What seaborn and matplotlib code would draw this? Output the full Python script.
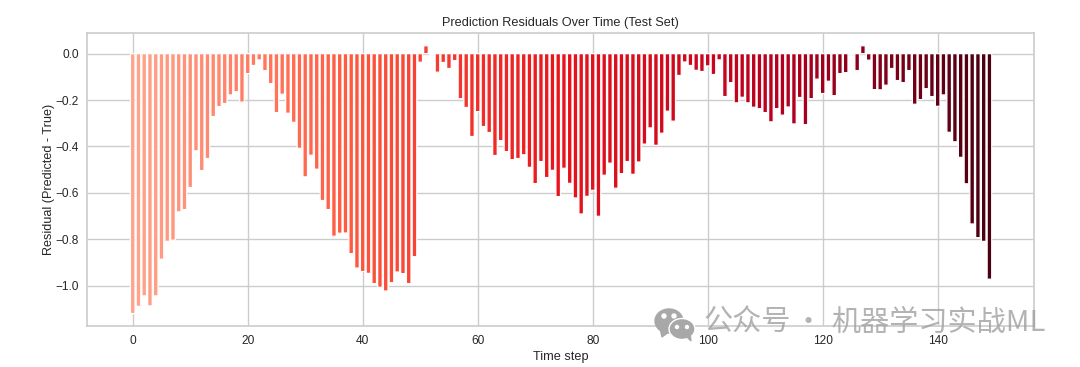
import numpy as np
import pandas as pd
import matplotlib.pyplot as plt
from matplotlib.colors import LinearSegmentedColormap
from matplotlib.patches import Ellipse, Polygon
import seaborn as sns

# residual, one per time step
residuals = [
    -1.120, -1.089, -1.044, -1.087, -1.044, -0.886, -0.809, -0.804, -0.682, -0.672,
    -0.577, -0.419, -0.504, -0.452, -0.271, -0.228, -0.215, -0.178, -0.164, -0.209,
    -0.086, -0.051, -0.027, -0.073, -0.129, -0.254, -0.175, -0.257, -0.296, -0.408,
    -0.531, -0.438, -0.498, -0.633, -0.672, -0.787, -0.774, -0.773, -0.862, -0.924,
    -0.939, -0.947, -0.991, -1.007, -1.023, -0.987, -0.941, -0.948, -0.991, -0.875,
    -0.037, 0.034, -0.004, -0.080, -0.038, -0.064, -0.030, -0.194, -0.232, -0.357,
    -0.250, -0.314, -0.340, -0.439, -0.375, -0.422, -0.457, -0.452, -0.436, -0.490,
    -0.560, -0.465, -0.534, -0.503, -0.616, -0.494, -0.559, -0.622, -0.691, -0.615,
    -0.589, -0.701, -0.524, -0.472, -0.580, -0.517, -0.465, -0.520, -0.467, -0.390,
    -0.320, -0.395, -0.343, -0.248, -0.291, -0.094, -0.036, -0.051, -0.072, -0.077,
    -0.053, -0.090, -0.027, -0.185, -0.125, -0.212, -0.188, -0.212, -0.231, -0.237,
    -0.254, -0.294, -0.237, -0.265, -0.230, -0.303, -0.189, -0.306, -0.194, -0.110,
    -0.172, -0.119, -0.181, -0.086, -0.082, -0.002, -0.073, 0.034, -0.028, -0.155,
    -0.156, -0.136, -0.064, -0.116, -0.125, -0.073, -0.218, -0.198, -0.151, -0.185,
    -0.227, -0.178, -0.339, -0.380, -0.447, -0.561, -0.734, -0.793, -0.809, -0.972,
]
steps = list(range(len(residuals)))
x_ticks = [0, 20, 40, 60, 80, 100, 120, 140]
y_ticks = [0.0, -0.2, -0.4, -0.6, -0.8, -1.0]

sns.set_theme(style="whitegrid")
plt.rcParams["font.family"] = ["Liberation Sans", "DejaVu Sans"]

df = pd.DataFrame({"step": steps, "residual": residuals})
reds = LinearSegmentedColormap.from_list(
    "reds", ["#ffa48c", "#ff5a40", "#e8141c", "#b80020", "#4a0010"])
colors = [reds(i / (len(steps) - 1)) for i in steps]

fig, ax = plt.subplots(figsize=(10.8, 3.67), dpi=100)
sns.barplot(data=df, x="step", y="residual", hue="step", palette=colors, legend=False,
            native_scale=True, saturation=1, edgecolor="white", linewidth=0.9, ax=ax)
# no pixel snapping, otherwise the thin bars come out uneven
for bar in ax.patches:
    bar.set_snap(False)

ax.set_xlim(-7.9, 156.7)
ax.set_ylim(-1.175, 0.089)
ax.set_xticks(x_ticks)
ax.set_yticks(y_ticks)
ax.set_xticklabels([str(t) for t in x_ticks])
ax.set_yticklabels([f"{t:.1f}".replace("-", "\u2212") for t in y_ticks])
ax.tick_params(labelsize=8.6, pad=0)
ax.grid(True, color="#cccccc", linewidth=1)
ax.set_axisbelow(True)
for s in ax.spines.values():
    s.set_color("#cccccc")
    s.set_linewidth(1.2)
ax.set_title("Prediction Residuals Over Time (Test Set)", fontsize=9.2, pad=5)
ax.set_xlabel("Time step", fontsize=9.2, labelpad=3)
ax.set_ylabel("Residual (Predicted - True)", fontsize=9.1, labelpad=0.5)
fig.subplots_adjust(left=87.3 / 1080, right=1033.7 / 1080, top=1 - 33 / 367, bottom=1 - 326.3 / 367)

# watermark on top of the figure
wm = "#a0a0a0"
fig.text(704 / 1080, 1 - 323 / 367, "公众号", fontsize=21, color=wm, alpha=0.8,
         va="center", ha="left", family=["Noto Sans CJK SC", "DejaVu Sans"])
fig.text(808 / 1080, 1 - 323 / 367, "·", fontsize=21, color=wm, alpha=0.8,
         va="center", ha="center", family=["Noto Sans CJK SC", "DejaVu Sans"])
fig.text(1046 / 1080, 1 - 323 / 367, "机器学习实战ML", fontsize=21, color=wm, alpha=0.8,
         va="center", ha="right", family=["Noto Sans CJK SC", "DejaVu Sans"])
overlay = fig.add_axes([0, 0, 1, 1], facecolor="none")
overlay.set_xlim(0, 1080)
overlay.set_ylim(367, 0)
overlay.axis("off")
overlay.add_patch(Ellipse((669, 321), 28, 24, color="#a8a8a8"))
overlay.add_patch(Polygon([[660, 328], [662, 337], [670, 331]], color="#a8a8a8"))
overlay.add_patch(Ellipse((682, 329), 26, 21, facecolor="#a8a8a8", edgecolor="white", linewidth=1))
overlay.add_patch(Polygon([[686, 336], [691, 341], [690, 333]], color="#a8a8a8"))
for ex, ey, es in [(664, 316, 4), (674, 316, 4), (677, 327, 3), (687, 327, 3)]:
    overlay.add_patch(Ellipse((ex, ey), es, es, color="white"))

fig.savefig("out.png", dpi=100)
